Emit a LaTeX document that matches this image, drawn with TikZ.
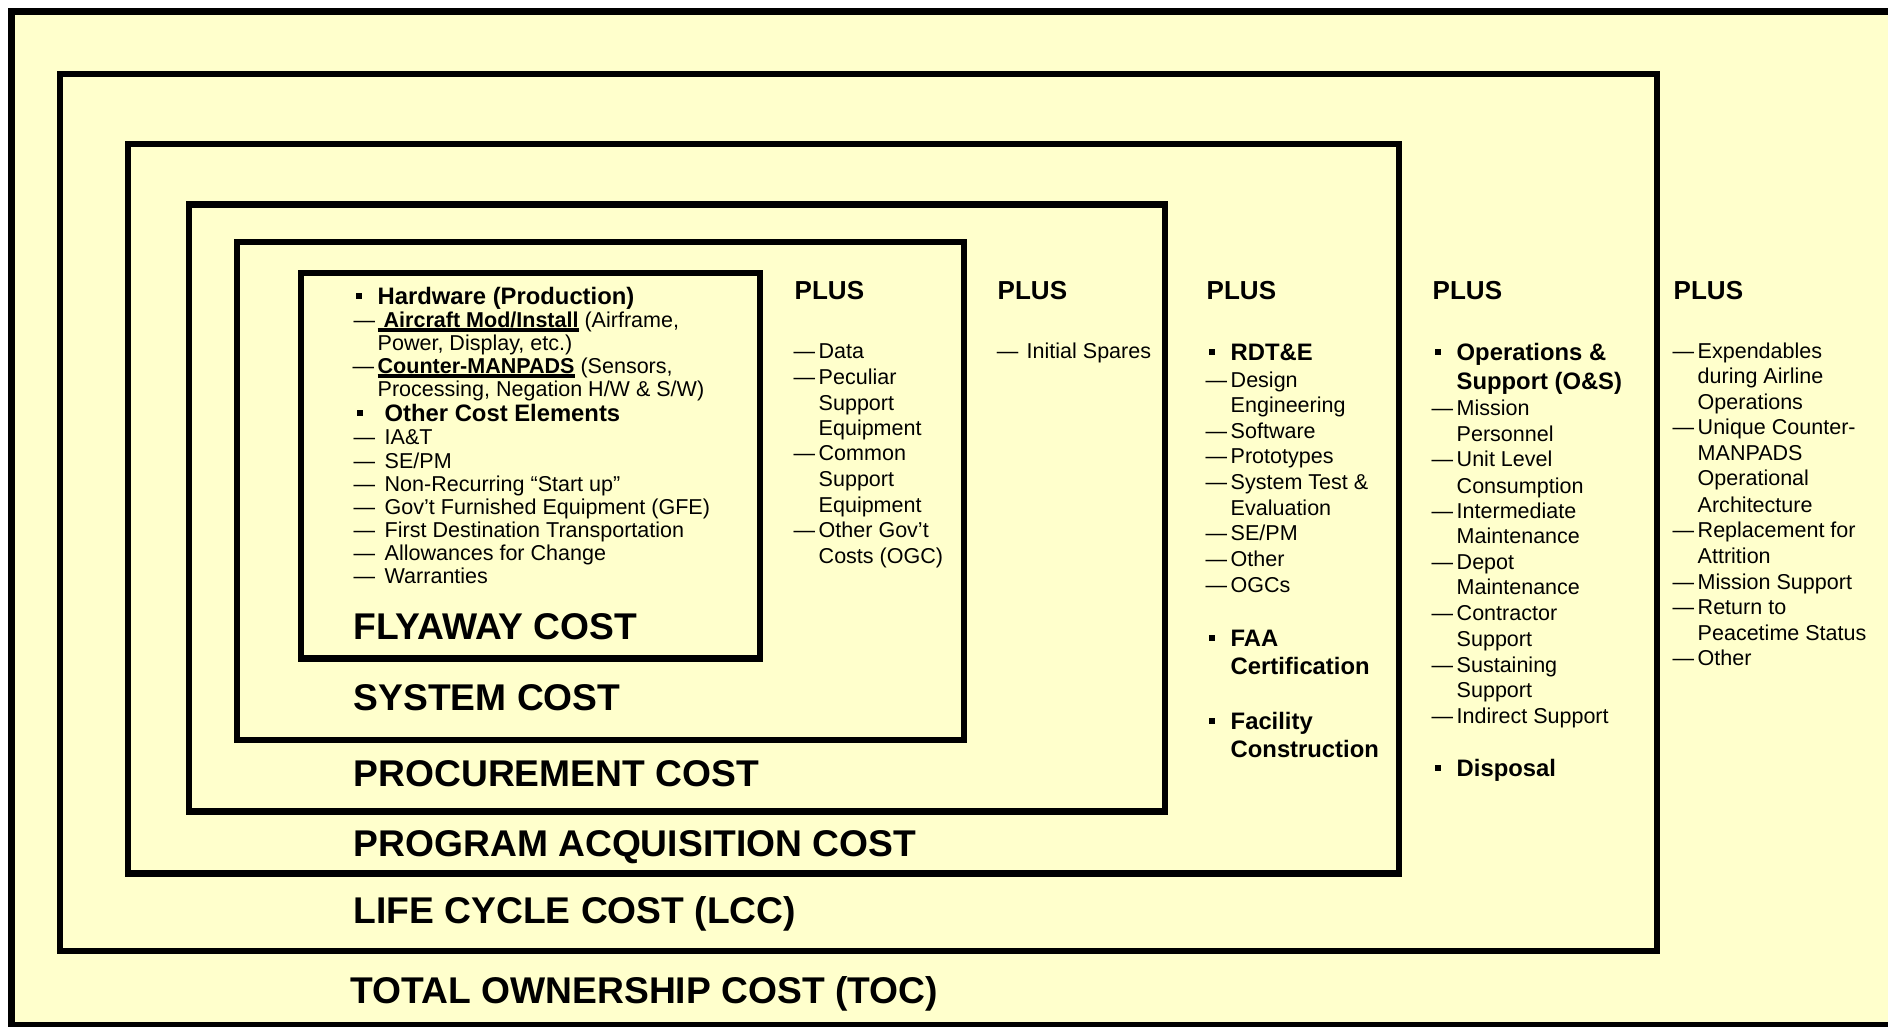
\documentclass[tikz,border=0pt]{standalone}
\usepackage{fontspec}
\setmainfont{Liberation Sans}
\definecolor{paleyellow}{RGB}{255,255,204}
\newcommand{\itemdash}[1][1pt]{\llap{—\hspace{#1}}}
\newcommand{\sqb}[1][4.6pt]{\llap{\rule[1.6pt]{1.7pt}{1.7pt}\hspace{#1}}}
\newcommand{\ulbold}[1]{\setbox0\hbox{\bfseries #1}\rlap{\rule[-1.1pt]{\wd0}{0.9pt}}\box0\relax}
\tikzset{
  costbox/.style={draw, line width=1.85pt, fill=paleyellow},
  big/.style={anchor=base west, inner sep=0pt, yshift=-3.78pt, font=\bfseries\fontsize{10.58}{12}\selectfont},
  plus/.style={anchor=base west, inner sep=0pt, yshift=-2.65pt, font=\bfseries\fontsize{7.4}{8.5}\selectfont},
  head/.style={anchor=base west, inner sep=0pt, yshift=-2.42pt, font=\bfseries\fontsize{6.77}{8}\selectfont},
  item/.style={anchor=base west, inner sep=0pt, yshift=-2.19pt, font=\fontsize{6.12}{7.3}\selectfont}
}

\begin{document}
\begin{tikzpicture}[x=0.01cm, y=-0.01cm]
    \useasboundingbox (0,0) rectangle (1888,1026);
    % nested cost boxes, outermost first
    \draw[costbox] (11.5,11.5) rectangle (1920,1025);
    \draw[costbox] (60,74) rectangle (1657,951);
    \draw[costbox] (128,144) rectangle (1399,873.5);
    \draw[costbox] (189,204.5) rectangle (1165,811.5);
    \draw[costbox] (237,242) rectangle (964,740);
    \draw[costbox] (301,273) rectangle (760,658.5);

    \node[big] (flyaway) at (353,626) {FLYAWAY COST};
    \node[big] (system) at (353,697) {SYSTEM COST};
    \node[big] (procurement) at (353,773) {PROCUREMENT COST};
    \node[big] (acquisition) at (353,843) {PROGRAM ACQUISITION COST};
    \node[big] (lcc) at (353,910) {LIFE CYCLE COST (LCC)};
    \node[big] (toc) at (350,990) {TOTAL OWNERSHIP COST (TOC)};

    \foreach \x [count=\i] in {794,997,1206,1432,1673}
        \node[plus] (plus\i) at (\x,290) {PLUS};

    % flyaway box
    \node[head] (hardware) at (377,296) {\sqb Hardware (Production)};
    \foreach \y/\t [count=\i] in {320/{\itemdash[0.7pt]\ulbold{\ Aircraft Mod/Install} (Airframe,},
        343/{Power, Display, etc.)}, 366/{\itemdash\ulbold{Counter-MANPADS} (Sensors,},
        389/{Processing, Negation H/W \& S/W)}}
        \node[item] (hw\i) at (377,\y) {\t};
    \node[head] (other) at (384,413) {\sqb[6.3pt]Other Cost Elements};
    \foreach \y/\t [count=\i] in {437/{IA\&T}, 461/{SE/PM}, 484/{Non-Recurring “Start up”},
        507/{Gov’t Furnished Equipment (GFE)}, 530/{First Destination Transportation},
        553/{Allowances for Change}, 576/{Warranties}}
        \node[item] (oce\i) at (384,\y) {\itemdash[2.7pt]\t};

    % system cost column
    \foreach \y/\t [count=\i] in {351/{\itemdash Data}, 377/{\itemdash Peculiar}, 403/{Support},
        428/{Equipment}, 453/{\itemdash Common}, 479/{Support}, 505/{Equipment},
        530/{\itemdash Other Gov’t}, 556/{Costs (OGC)}}
        \node[item] (sys\i) at (818,\y) {\t};

    % procurement column
    \node[item] (spares) at (1026,351) {\itemdash[2.4pt]Initial Spares};

    % program acquisition column
    \foreach \y/\t [count=\i] in {352/{\sqb RDT\&E}, 638/{\sqb FAA}, 666/{Certification},
        721/{\sqb Facility}, 749/{Construction}}
        \node[head] (pach\i) at (1230,\y) {\t};
    \foreach \y/\t [count=\i] in {380/{\itemdash Design}, 405/{Engineering}, 431/{\itemdash Software},
        456/{\itemdash Prototypes}, 482/{\itemdash System Test \&}, 508/{Evaluation},
        533/{\itemdash SE/PM}, 559/{\itemdash Other}, 585/{\itemdash OGCs}}
        \node[item] (pac\i) at (1230,\y) {\t};

    % life cycle column
    \foreach \y/\t [count=\i] in {352/{\sqb Operations \&}, 381/{Support (O\&S)}, 768/{\sqb Disposal}}
        \node[head] (lcch\i) at (1456,\y) {\t};
    \foreach \y/\t [count=\i] in {408/{\itemdash Mission}, 434/{Personnel}, 459/{\itemdash Unit Level},
        486/{Consumption}, 511/{\itemdash Intermediate}, 536/{Maintenance}, 562/{\itemdash Depot},
        587/{Maintenance}, 613/{\itemdash Contractor}, 639/{Support}, 665/{\itemdash Sustaining},
        690/{Support}, 716/{\itemdash Indirect Support}}
        \node[item] (lcc\i) at (1456,\y) {\t};

    % total ownership column
    \foreach \y/\t [count=\i] in {351/{\itemdash Expendables}, 376/{during Airline}, 402/{Operations},
        427/{\itemdash Unique Counter-}, 453/{MANPADS}, 478/{Operational}, 505/{Architecture},
        530/{\itemdash Replacement for}, 556/{Attrition}, 582/{\itemdash Mission Support},
        607/{\itemdash Return to}, 633/{Peacetime Status}, 658/{\itemdash Other}}
        \node[item] (toc\i) at (1697,\y) {\t};
\end{tikzpicture}
\end{document}
